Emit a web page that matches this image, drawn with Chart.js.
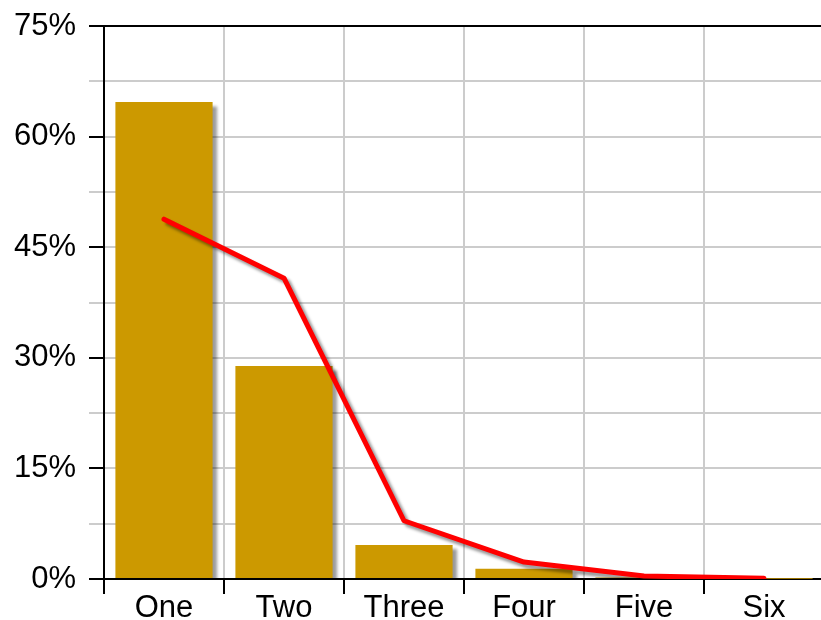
<!DOCTYPE html>
<html lang="en">
<head>
    <meta charset="UTF-8">
    <title>Distribution</title>
    <script src="https://cdn.jsdelivr.net/npm/chart.js"></script>
    <style>
        html, body { margin: 0; padding: 0; overflow: hidden; background: #fff; }
        #wrap { width: 824px; height: 620px; }
    </style>
</head>
<body>
    <div id="wrap">
        <canvas id="chart"></canvas>
    </div>
    <script>
        // chart values (percent)
        const categories = ['One', 'Two', 'Three', 'Four', 'Five', 'Six'];
        const barValues = [64.7, 28.9, 4.6, 1.4, 0.2, 0.05];
        const lineValues = [48.8, 40.8, 7.9, 2.3, 0.4, 0.1];
        const yMax = 75;
        const yStep = 7.5;

        // soft drop shadow under bars and the line
        const shadowPlugin = {
            id: 'shadow',
            beforeDatasetDraw(chart) {
                const ctx = chart.ctx;
                ctx.save();
                ctx.shadowColor = 'rgba(0,0,0,0.4)';
                ctx.shadowOffsetX = 4;
                ctx.shadowOffsetY = 4;
                ctx.shadowBlur = 3;
            },
            afterDatasetDraw(chart) {
                chart.ctx.restore();
            }
        };

        const font = { family: '"Liberation Sans", Arial, sans-serif', size: 31 };

        new Chart(document.getElementById('chart'), {
            type: 'bar',
            data: {
                labels: categories,
                datasets: [
                    {
                        type: 'line',
                        data: lineValues,
                        borderColor: '#ff0000',
                        borderWidth: 5,
                        pointRadius: 0,
                        tension: 0,
                        borderCapStyle: 'round',
                        borderJoinStyle: 'round',
                        order: 0
                    },
                    {
                        type: 'bar',
                        data: barValues,
                        backgroundColor: '#cc9900',
                        categoryPercentage: 0.81,
                        barPercentage: 1.0,
                        order: 1
                    }
                ]
            },
            options: {
                responsive: true,
                maintainAspectRatio: false,
                animation: false,
                layout: { padding: { top: 26, left: 0, right: 0, bottom: 0 } },
                plugins: {
                    legend: { display: false },
                    tooltip: { enabled: false }
                },
                scales: {
                    x: {
                        grid: {
                            offset: true,
                            color: '#cccccc',
                            lineWidth: 2,
                            tickColor: '#000000',
                            tickWidth: 2,
                            tickLength: 15
                        },
                        border: { color: '#000000', width: 2 },
                        ticks: { color: '#000000', font: font, padding: -4 },
                        afterFit(scale) { scale.height = 41; }
                    },
                    y: {
                        min: 0,
                        max: yMax,
                        ticks: {
                            stepSize: yStep,
                            color: '#000000',
                            font: font,
                            padding: 13,
                            callback: v => (v % 15 === 0 ? v + '%' : '')
                        },
                        grid: {
                            color: c => (c.tick && c.tick.value === yMax ? '#000000' : '#cccccc'),
                            lineWidth: 2,
                            tickColor: c => (c.tick && c.tick.value % 15 === 0 ? '#000000' : '#cccccc'),
                            tickWidth: 2,
                            tickLength: 15
                        },
                        border: { color: '#000000', width: 2 },
                        afterFit(scale) {
                            scale.width = 104;
                            scale.paddingTop = 0;
                            scale.paddingBottom = 0;
                        }
                    }
                }
            },
            plugins: [shadowPlugin]
        });
    </script>
</body>
</html>
